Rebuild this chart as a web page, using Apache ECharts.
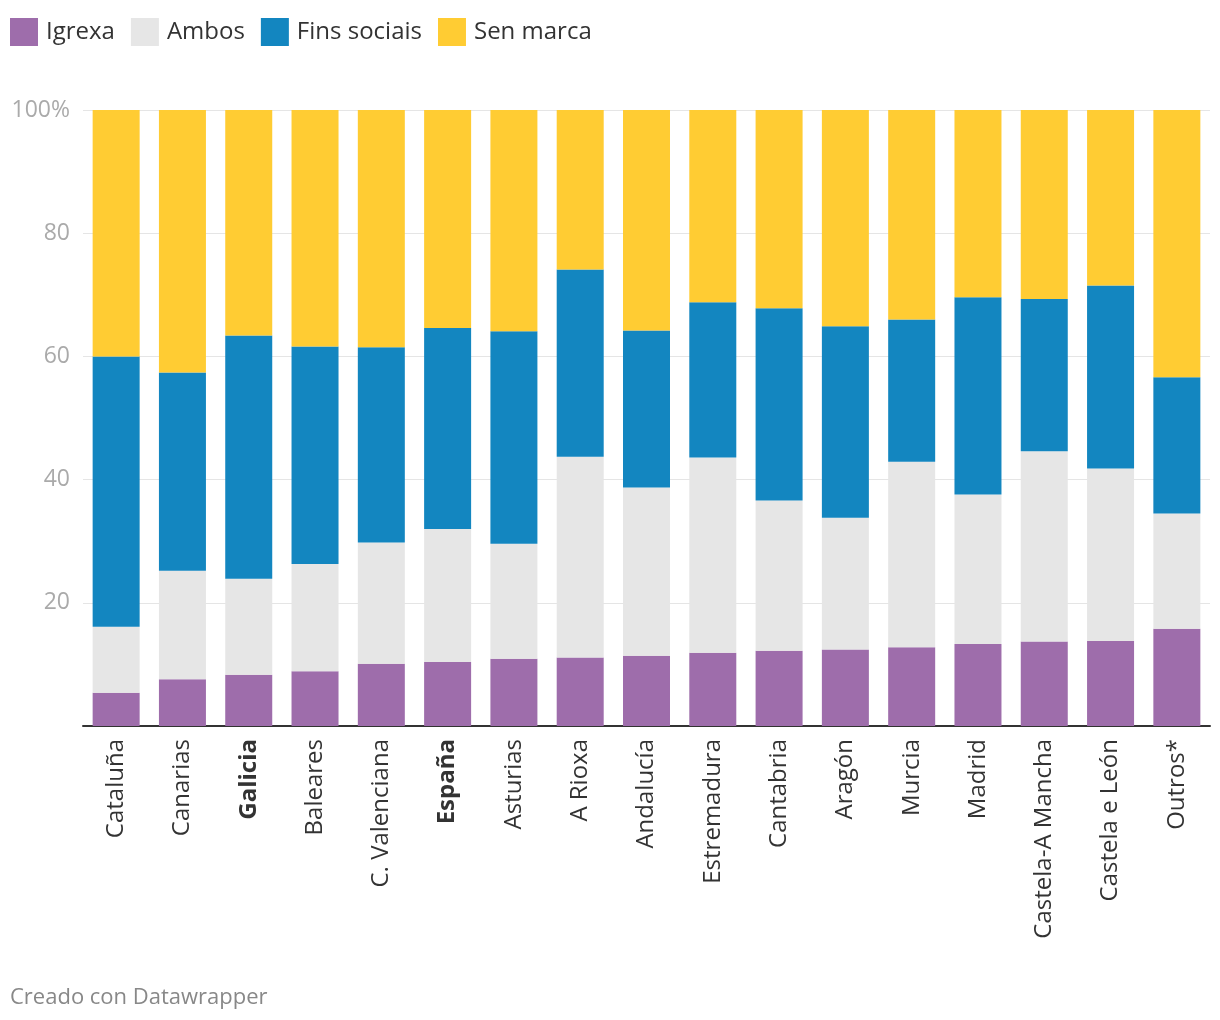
<!DOCTYPE html>
<html>
<head>
<meta charset="utf-8">
<script src="https://cdn.jsdelivr.net/npm/echarts@6/dist/echarts.min.js"></script>
<style>html,body{margin:0;padding:0;background:#fff}#c{width:1220px;height:1020px}</style>
</head>
<body>
<div id="c"></div>
<script>
const categories = ["Cataluña","Canarias","Galicia","Baleares","C. Valenciana","España","Asturias","A Rioxa","Andalucía","Estremadura","Cantabria","Aragón","Murcia","Madrid","Castela-A Mancha","Castela e León","Outros*"];
const boldCategories = ["Galicia","España"];
const igrexa =     [5.4, 7.6, 8.3, 8.9, 10.1, 10.4, 10.9, 11.1, 11.4, 11.9, 12.2, 12.4, 12.8, 13.3, 13.7, 13.8, 15.8];
const ambos =      [10.7, 17.6, 15.6, 17.4, 19.7, 21.6, 18.7, 32.6, 27.3, 31.7, 24.4, 21.4, 30.1, 24.3, 30.9, 28.0, 18.7];
const finsSociais = [43.9, 32.2, 39.5, 35.3, 31.7, 32.6, 34.5, 30.4, 25.5, 25.2, 31.2, 31.1, 23.1, 32.0, 24.7, 29.7, 22.1];
const senMarca =   [40.0, 42.6, 36.6, 38.4, 38.5, 35.4, 35.9, 25.9, 35.8, 31.2, 32.2, 35.1, 34.0, 30.4, 30.7, 28.5, 43.4];
const yTicks = [0, 20, 40, 60, 80, 100];

const font = "'Open Sans', 'Noto Sans', sans-serif";
const chart = echarts.init(document.getElementById('c'));
const mk = (name, data, color) => ({
  name, type: 'bar', stack: 'total', data, barWidth: 47,
  itemStyle: { color }, emphasis: { disabled: true }
});
chart.setOption({
  animation: false,
  legend: {
    left: 5, top: 13, itemWidth: 28, itemHeight: 28, itemGap: 16,
    icon: 'rect',
    textStyle: { fontFamily: font, fontSize: 24, color: '#333', padding: [0, 0, 0, 3] },
    data: ['Igrexa', 'Ambos', 'Fins sociais', 'Sen marca']
  },
  grid: { left: 83, right: 10, top: 110, bottom: 294 },
  xAxis: {
    type: 'category', data: categories,
    axisLine: { lineStyle: { color: '#333', width: 2 } },
    axisTick: { show: false },
    axisLabel: {
      rotate: 90, margin: 13, fontFamily: font, fontSize: 24, color: '#333',
      padding: [0, 0, 0, 0],
      formatter: v => boldCategories.includes(v) ? '{b|' + v + '}' : v,
      rich: { b: { fontFamily: font, fontSize: 24, fontWeight: 'bold', color: '#333' } }
    }
  },
  yAxis: {
    type: 'value', min: 0, max: 100, interval: 20,
    axisLine: { show: false }, axisTick: { show: false },
    splitLine: { lineStyle: { color: '#e5e5e5', width: 1 } },
    axisLabel: {
      margin: 13, fontFamily: font, fontSize: 23, color: '#aaa',
      padding: [3, 0, 0, 0],
      formatter: v => yTicks.includes(v) ? (v === 100 ? '100%' : (v === 0 ? '' : String(v))) : ''
    }
  },
  graphic: [{
    type: 'text', left: 10, top: 987,
    style: { text: 'Creado con Datawrapper', fontFamily: font, fontSize: 22, fill: '#888' }
  }],
  series: [
    mk('Igrexa', igrexa, '#9e6dab'),
    mk('Ambos', ambos, '#e6e6e6'),
    mk('Fins sociais', finsSociais, '#1386c0'),
    mk('Sen marca', senMarca, '#ffcc33')
  ]
});
</script>
</body>
</html>
